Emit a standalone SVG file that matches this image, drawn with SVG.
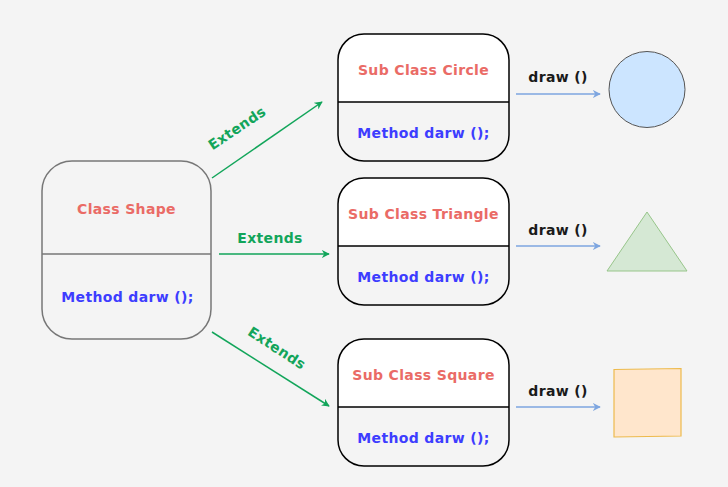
<svg xmlns="http://www.w3.org/2000/svg" width="728" height="487" viewBox="0 0 728 487">
<defs>
<marker id="ag" viewBox="0 0 10 10" refX="9" refY="5" markerWidth="8" markerHeight="8" markerUnits="userSpaceOnUse" orient="auto"><path d="M0,0 L10,5 L0,10 L3,5 Z" fill="#12A55A"/></marker>
<marker id="ab" viewBox="0 0 10 10" refX="9" refY="5" markerWidth="8" markerHeight="8" markerUnits="userSpaceOnUse" orient="auto"><path d="M0,0 L10,5 L0,10 L3,5 Z" fill="#7EA6E0"/></marker>
<style>
text{font-family:"DejaVu Sans",Verdana,sans-serif;font-weight:bold;font-size:14px;letter-spacing:0.35px;text-anchor:middle}
.t{fill:#EA6B66}
.m{fill:#3D3DFF}
.g{fill:#12A55A}
.d{fill:#1a1a1a}
.box{stroke:#000;stroke-width:1.5}
.gl{stroke:#12A55A;stroke-width:1.5;fill:none;marker-end:url(#ag)}
.bl{stroke:#7EA6E0;stroke-width:1.5;fill:none;marker-end:url(#ab)}
</style>
</defs>
<rect width="728" height="487" fill="#F4F4F4"/>
<g id="class-shape">
<rect x="42" y="161" width="169" height="178" rx="30" fill="#F4F4F4" stroke="#777" stroke-width="1.5"/>
<line x1="42" y1="254" x2="211" y2="254" stroke="#777" stroke-width="1.5"/>
<text class="t" x="126.5" y="214">Class Shape</text>
<text class="m" x="127.5" y="302">Method darw ();</text>
</g>
<g id="sub-circle">
<path d="M338,102 V60 A26,26 0 0 1 364,34 H483 A26,26 0 0 1 509,60 V102 Z" fill="#fff"/>
<rect class="box" x="338" y="34" width="171" height="127" rx="26" fill="none"/>
<line class="box" x1="338" y1="102" x2="509" y2="102"/>
<text class="t" x="423.5" y="75">Sub Class Circle</text>
<text class="m" x="423.5" y="138">Method darw ();</text>
</g>
<g id="sub-triangle">
<path d="M338,246 V204 A26,26 0 0 1 364,178 H483 A26,26 0 0 1 509,204 V246 Z" fill="#fff"/>
<rect class="box" x="338" y="178" width="171" height="127" rx="26" fill="none"/>
<line class="box" x1="338" y1="246" x2="509" y2="246"/>
<text class="t" x="423.5" y="219">Sub Class Triangle</text>
<text class="m" x="423.5" y="282">Method darw ();</text>
</g>
<g id="sub-square">
<path d="M338,407 V365 A26,26 0 0 1 364,339 H483 A26,26 0 0 1 509,365 V407 Z" fill="#fff"/>
<rect class="box" x="338" y="339" width="171" height="127" rx="26" fill="none"/>
<line class="box" x1="338" y1="407" x2="509" y2="407"/>
<text class="t" x="423.5" y="380">Sub Class Square</text>
<text class="m" x="423.5" y="443">Method darw ();</text>
</g>
<g id="circle"><circle cx="647" cy="89.5" r="38" fill="#CCE5FF" stroke="#555" stroke-width="1"/></g>
<g id="triangle"><polygon points="647,212 687,271 607,271" fill="#D5E8D4" stroke="#97C58A" stroke-width="1"/></g>
<g id="square"><polygon points="614,369.5 681,368.5 681,436 614,437" fill="#FFE6CC" stroke="#EDBA4C" stroke-width="1.2"/></g>
<g id="connectors">
<line class="gl" x1="212" y1="178" x2="322" y2="102"/>
<line class="gl" x1="219" y1="254" x2="329" y2="254"/>
<line class="gl" x1="212" y1="332" x2="329" y2="406"/>
<line class="bl" x1="516" y1="94" x2="600" y2="94"/>
<line class="bl" x1="516" y1="246" x2="600" y2="246"/>
<line class="bl" x1="516" y1="407" x2="600" y2="407"/>
<text class="g" transform="translate(237,128) rotate(-34)" y="5">Extends</text>
<text class="g" x="270" y="243">Extends</text>
<text class="g" transform="translate(277,348) rotate(33)" y="5">Extends</text>
<text class="d" x="558" y="82">draw ()</text>
<text class="d" x="558" y="235">draw ()</text>
<text class="d" x="558" y="396">draw ()</text>
</g>
</svg>
